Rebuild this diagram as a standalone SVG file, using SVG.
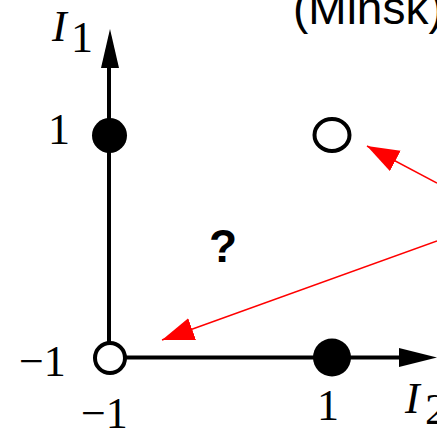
<svg xmlns="http://www.w3.org/2000/svg" width="437" height="429" viewBox="0 0 437 429">
<style>
.tm{font-family:"Liberation Serif","Times New Roman",serif;font-size:44px;fill:#000}
.it{font-style:italic}
.ax{stroke:#000;stroke-width:4;fill:none}
.red{stroke:#ff0000;stroke-width:1.5;fill:none}
</style>
<defs>
<marker id="ra" markerUnits="userSpaceOnUse" markerWidth="34" markerHeight="24" refX="32" refY="11.5" orient="auto">
<path d="M0,0 L32,11.5 L0,23 Z" fill="#ff0000"/>
</marker>
</defs>
<rect width="437" height="429" fill="#fff"/>
<text x="293" y="24" font-family="Liberation Sans,Arial,sans-serif" font-size="46">(Minsk)</text>
<g id="axes">
<line class="ax" x1="109" y1="358" x2="109" y2="62"/>
<path d="M110,29 L119,68 L101,68 Z" fill="#000"/>
<line class="ax" x1="110" y1="357.5" x2="404" y2="357.5"/>
<path d="M437,357.5 L399,348 L399,367 Z" fill="#000"/>
</g>
<g id="labels">
<text class="tm it" x="52" y="41">I</text>
<text class="tm" x="71" y="52">1</text>
<text class="tm" x="48" y="144">1</text>
<text class="tm" x="19" y="376">−1</text>
<text class="tm" x="81" y="428">−1</text>
<text class="tm" x="317" y="420">1</text>
<text class="tm it" x="405" y="413">I</text>
<text class="tm" x="425" y="424">2</text>
<text x="209" y="262" font-family="Liberation Sans,Arial,sans-serif" font-weight="bold" font-size="46">?</text>
</g>
<g id="n_11"><circle cx="109.5" cy="135.5" r="17.5" fill="#000"/></g>
<g id="n_m1m1"><circle cx="110" cy="358" r="15" fill="#fff" stroke="#000" stroke-width="4"/></g>
<g id="n_m11"><ellipse cx="332" cy="135" rx="17.5" ry="16" fill="#fff" stroke="#000" stroke-width="4"/></g>
<g id="n_1m1"><circle cx="332" cy="357.5" r="19" fill="#000"/></g>
<g id="connectors">
<line class="red" x1="437" y1="183" x2="367" y2="146" marker-end="url(#ra)"/>
<line class="red" x1="437" y1="241" x2="162" y2="340" marker-end="url(#ra)"/>
</g>
</svg>
